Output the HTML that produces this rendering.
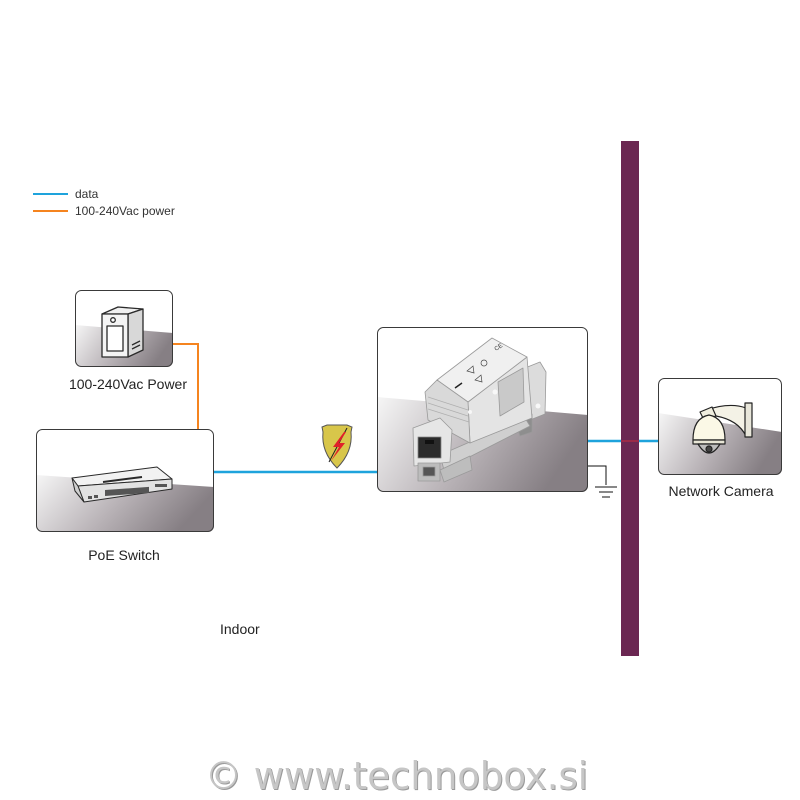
<!DOCTYPE html>
<html><head><meta charset="utf-8"><style>
html,body{margin:0;padding:0;background:#fff;}
svg{display:block;}
text{font-family:"Liberation Sans",sans-serif;}
</style></head><body>
<svg width="800" height="800" viewBox="0 0 800 800" xmlns="http://www.w3.org/2000/svg">
<defs>
<linearGradient id="g" x1="0" x2="1" y1="0" y2="0.3">
<stop offset="0" stop-color="#f6f6f6"/>
<stop offset="0.55" stop-color="#b9b3b7"/>
<stop offset="1" stop-color="#867f84"/>
</linearGradient>
<clipPath id="c1"><rect x="75" y="290" width="98" height="77" rx="6"/></clipPath>
<clipPath id="c2"><rect x="36" y="429" width="178" height="103" rx="6"/></clipPath>
<clipPath id="c3"><rect x="377" y="327" width="211" height="165" rx="6"/></clipPath>
<clipPath id="c4"><rect x="658" y="378" width="124" height="97" rx="6"/></clipPath>
</defs>

<!-- legend -->
<line x1="33" y1="194" x2="68" y2="194" stroke="#1ea3dc" stroke-width="2"/>
<text x="75" y="198" font-size="12" fill="#333">data</text>
<line x1="33" y1="211" x2="68" y2="211" stroke="#f5841f" stroke-width="2"/>
<text x="75" y="215" font-size="12" fill="#333">100-240Vac power</text>

<!-- connectors -->
<polyline points="173,344 198,344 198,430" fill="none" stroke="#f5841f" stroke-width="2"/>
<line x1="214" y1="472" x2="378" y2="472" stroke="#1ea3dc" stroke-width="2.5"/>
<line x1="588" y1="441" x2="658" y2="441" stroke="#1ea3dc" stroke-width="2.5"/>

<!-- wall -->
<rect x="621" y="141" width="18" height="515" fill="#6b2752"/>
<line x1="621" y1="441" x2="639" y2="441" stroke="#9a2a48" stroke-width="2"/>

<!-- power box -->
<rect x="75" y="290" width="98" height="77" rx="6" fill="#fff"/>
<polygon points="75,325 173,333 173,367 75,367" fill="url(#g)" clip-path="url(#c1)"/>
<rect x="75.5" y="290.5" width="97" height="76" rx="6" fill="none" stroke="#3a3a3a" stroke-width="1"/>
<g stroke="#2a2a2a" stroke-width="1.3" stroke-linejoin="round">
<polygon points="102,314 118,307 143,309 128,314" fill="#f0f0f0"/>
<polygon points="128,314 143,309 143,350 128,357" fill="#d8d8d8"/>
<path d="M102,314 L128,314 L128,357 L102,357 Z" fill="#f4f4f4"/>
<rect x="107" y="326" width="16" height="25" fill="#fff"/>
<circle cx="113" cy="320" r="2.3" fill="#fff"/>
<line x1="132" y1="345" x2="140" y2="341"/>
<line x1="132" y1="349" x2="140" y2="345"/>
</g>
<text x="128" y="389" font-size="14" fill="#222" text-anchor="middle">100-240Vac Power</text>

<!-- switch box -->
<rect x="36" y="429" width="178" height="103" rx="6" fill="#fff"/>
<polygon points="36,475 214,487 214,532 36,532" fill="url(#g)" clip-path="url(#c2)"/>
<rect x="36.5" y="429.5" width="177" height="102" rx="6" fill="none" stroke="#3a3a3a" stroke-width="1"/>
<g stroke="#2a2a2a" stroke-width="1" stroke-linejoin="round">
<polygon points="72,478 157,467 172,479 78,486" fill="#f2f2f2"/>
<polygon points="78,486 172,479 172,489 84,502" fill="#e2e2e2"/>
<polygon points="72,478 78,486 84,502 75,491" fill="#cfcfcf"/>
<line x1="103" y1="482" x2="142" y2="477" stroke-width="2"/>
<g fill="#555" stroke="none">
<rect x="88" y="496" width="4" height="3"/>
<rect x="94" y="495" width="4" height="3"/>
<rect x="105" y="490" width="44" height="6" transform="skewY(-4)" transform-origin="105 490"/>
<rect x="155" y="484" width="12" height="3"/>
</g>
</g>
<text x="124" y="560" font-size="14" fill="#222" text-anchor="middle">PoE Switch</text>

<!-- shield -->
<path d="M322,427 L327,425 L347,425 L352,427 L351,432 Q353,452 337,468 Q321,452 323,432 Z" fill="#d8c64a" stroke="#555" stroke-width="1"/>
<line x1="347" y1="428" x2="329" y2="462" stroke="#222" stroke-width="1"/>
<polygon points="344,432 333,447 339,447 331,461 345,443 339,443 346,432" fill="#e0202a"/>

<!-- SPD box -->
<rect x="377" y="327" width="211" height="165" rx="6" fill="#fff"/>
<polygon points="377,397 588,415 588,492 377,492" fill="url(#g)" clip-path="url(#c3)"/>
<rect x="377.5" y="327.5" width="210" height="164" rx="6" fill="none" stroke="#3a3a3a" stroke-width="1"/>
<g stroke="#9a9a9a" stroke-width="0.8" stroke-linejoin="round">
<polygon points="525,368 540,362 546,372 545,414 530,420" fill="#dcdcdc"/>
<polygon points="515,420 532,414 532,432 520,436" fill="#8e8e8e"/>
<polygon points="440,455 525,418 530,426 444,470" fill="#cfcfcf"/>
<polygon points="440,470 470,456 472,470 444,482" fill="#bdbdbd"/>
<polygon points="527,357 468,402 470,443 532,418" fill="#e4e4e4"/>
<polygon points="498,382 523,368 524,402 500,416" fill="#c9c9c9"/>
<polygon points="492,338 527,357 468,402 437,380" fill="#f0f0f0"/>
<polygon points="437,380 468,402 470,443 428,420 425,392" fill="#d9d9d9"/>
<g stroke="#b0b0b0">
<line x1="428" y1="397" x2="468" y2="410"/>
<line x1="428" y1="403" x2="468" y2="416"/>
<line x1="428" y1="409" x2="469" y2="422"/>
</g>
<polygon points="413,428 440,418 452,430 450,462 414,466" fill="#e6e6e6"/>
<rect x="418" y="437" width="23" height="21" fill="#2b2b2b" stroke="#888"/>
<rect x="425" y="440" width="9" height="4" fill="#111" stroke="none"/>
<rect x="418" y="463" width="22" height="18" fill="#bcbcbc"/>
<rect x="423" y="467" width="12" height="9" fill="#555"/>
</g>
<g fill="#333" font-size="6">
<text x="496" y="351" transform="rotate(-34 496 351)">CE</text>
<polygon points="467,371 473,366 474,373" fill="none" stroke="#444" stroke-width="0.7"/>
<polygon points="475,380 481,375 482,382" fill="none" stroke="#444" stroke-width="0.7"/>
<circle cx="484" cy="363" r="3" fill="none" stroke="#444" stroke-width="0.7"/>
<line x1="455" y1="388" x2="462" y2="383" stroke="#222" stroke-width="1.5"/>
</g>
<g fill="#f8f8f8"><circle cx="495" cy="392" r="2.5"/><circle cx="538" cy="406" r="2.5"/><circle cx="470" cy="412" r="2"/></g>

<!-- ground -->
<g stroke="#111" stroke-width="1" fill="none">
<polyline points="588,466 606,466 606,485"/>
<line x1="595" y1="487" x2="617" y2="487"/>
<line x1="599" y1="492" x2="613" y2="492"/>
<line x1="602" y1="497" x2="610" y2="497"/>
</g>

<!-- camera box -->
<rect x="658" y="378" width="124" height="97" rx="6" fill="#fff"/>
<polygon points="658,413 782,432 782,475 658,475" fill="url(#g)" clip-path="url(#c4)"/>
<rect x="658.5" y="378.5" width="123" height="96" rx="6" fill="none" stroke="#3a3a3a" stroke-width="1"/>
<g stroke="#222" stroke-width="1.2" stroke-linejoin="round">
<path d="M706,410 Q730,402 746,408 L746,436 Q738,420 716,416 Z" fill="#f4f2e6"/>
<rect x="745" y="403" width="7" height="34" fill="#e8e6da"/>
<path d="M700,412 L712,407 L716,416 L704,420 Z" fill="#f0eedf"/>
<path d="M693,440 Q693,418 709,415 Q725,418 725,440 Z" fill="#fbf8e6"/>
<rect x="693" y="440" width="32" height="4" fill="#e8e6d6"/>
<path d="M698,444 Q709,462 720,444 Z" fill="#bdbdbd"/>
<circle cx="709" cy="449" r="3" fill="#444"/>
</g>
<text x="721" y="496" font-size="14" fill="#222" text-anchor="middle">Network Camera</text>

<!-- indoor -->
<text x="220" y="634" font-size="14" fill="#222">Indoor</text>

<!-- watermark -->
<text x="206" y="790" font-size="38" fill="#9a9a9a" textLength="383" lengthAdjust="spacingAndGlyphs" style="font-family:'DejaVu Sans',sans-serif">© www.technobox.si</text>
<text x="205" y="789" font-size="38" fill="#c6c6c6" textLength="383" lengthAdjust="spacingAndGlyphs" style="font-family:'DejaVu Sans',sans-serif">© www.technobox.si</text>
</svg>
</body></html>
